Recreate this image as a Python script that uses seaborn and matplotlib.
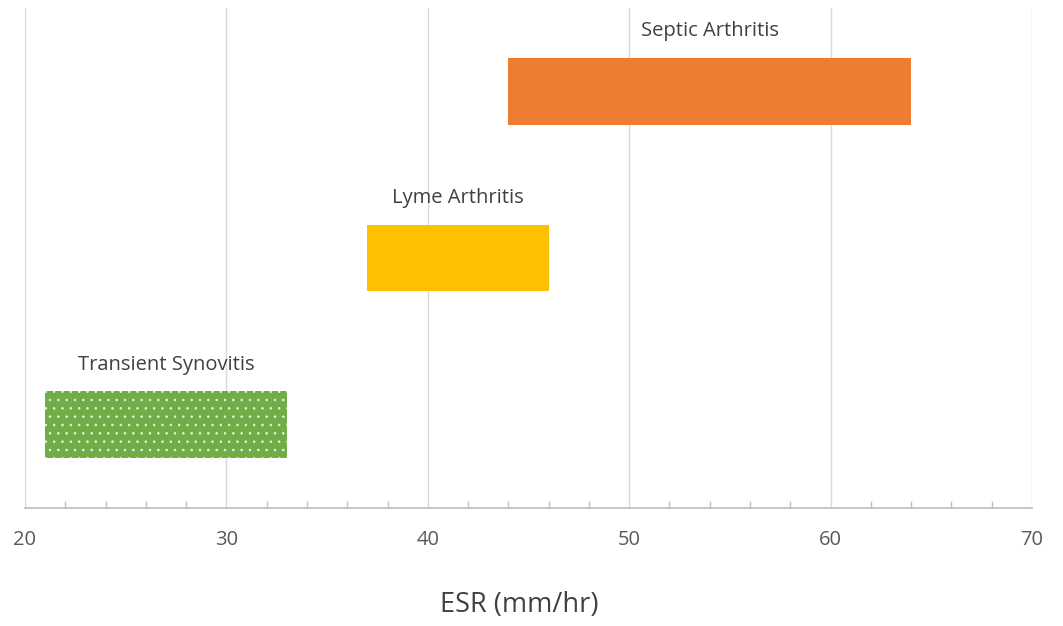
import seaborn as sns
import pandas as pd
import matplotlib
matplotlib.use("Agg")
import matplotlib.pyplot as plt
from matplotlib.ticker import MultipleLocator

# ESR ranges per diagnosis (mm/hr)
conditions = ["Septic Arthritis", "Lyme Arthritis", "Transient Synovitis"]
esr_low = [44, 37, 21]
esr_high = [64, 46, 33]
colors = ["#ED7D31", "#FFC000", "#70AD47"]

df = pd.DataFrame({"condition": conditions, "low": esr_low, "high": esr_high})

sns.set_theme(style="white")
plt.rcParams["font.family"] = ["Open Sans", "DejaVu Sans"]
plt.rcParams["hatch.linewidth"] = 0.6

fig = plt.figure(figsize=(10.63, 6.26), dpi=100)
ax = fig.add_axes([25 / 1063, 1 - 508 / 626, (1032 - 25) / 1063, 500 / 626])

sns.barplot(data=df, x="high", y="condition", order=conditions, orient="h",
            width=0.4, palette=colors, hue="condition", legend=False,
            saturation=1, ax=ax, zorder=3)

# turn the bars into floating ranges
for patch, lo, hi, name in zip(ax.patches, esr_low, esr_high, conditions):
    patch.set_x(lo)
    patch.set_width(hi - lo)
    patch.set_linewidth(0)
    if name == "Transient Synovitis":
        patch.set_hatch("..")
        patch.set_edgecolor("#E8F2DF")
    cy = patch.get_y()
    ax.text((lo + hi) / 2, cy - 0.1, name, ha="center", va="bottom",
            fontsize=14.5, color="#404040")

ax.set_xlim(20, 70)
ax.set_ylim(2.5, -0.5)
ax.xaxis.set_major_locator(MultipleLocator(10))
ax.xaxis.set_minor_locator(MultipleLocator(2))
ax.grid(axis="x", which="major", color="#D9D9D9", linewidth=1, zorder=0)
ax.set_axisbelow(True)
ax.tick_params(axis="x", which="both", bottom=True, direction="in",
               colors="#BFBFBF", labelcolor="#595959", labelsize=14.5, pad=16)
ax.tick_params(axis="x", which="minor", length=5, width=1)
ax.tick_params(axis="x", which="major", length=0)
ax.set_yticks([])
ax.set_ylabel("")
ax.set_xlabel("ESR (mm/hr)", fontsize=19.5, color="#404040")
ax.xaxis.set_label_coords(0.491, -0.165)
for side in ["top", "right", "left"]:
    ax.spines[side].set_visible(False)
ax.spines["bottom"].set_color("#BFBFBF")

fig.savefig("out.png", dpi=100)
